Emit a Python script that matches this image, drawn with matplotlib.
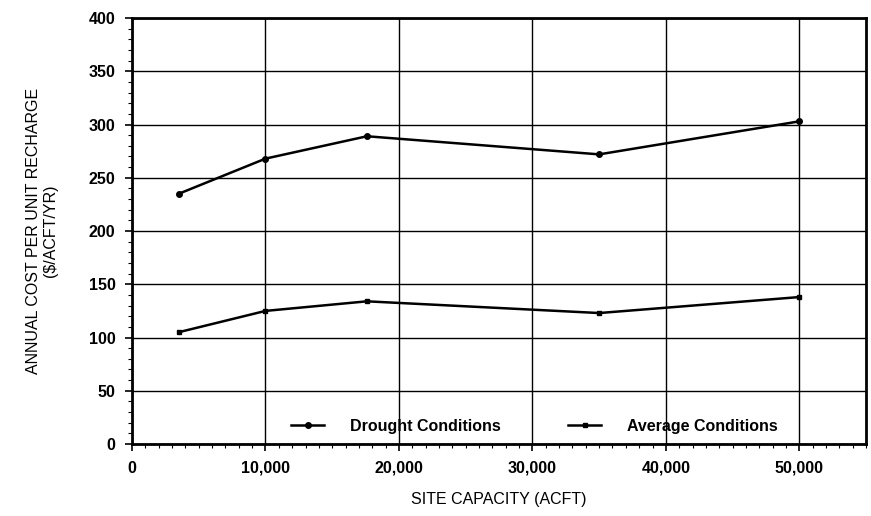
import matplotlib.pyplot as plt
from matplotlib.ticker import MultipleLocator, FuncFormatter

capacity = [3500, 10000, 17600, 35000, 50000]
drought = [235, 268, 289, 272, 303]
average = [105, 125, 134, 123, 138]

plt.rcParams['font.family'] = ['Liberation Sans', 'DejaVu Sans']

fig = plt.figure(figsize=(8.71, 5.16), dpi=100)
ax = fig.add_axes([0.1516, 0.1395, 0.8427, 0.8255])

ax.plot(capacity, drought, color='black', lw=1.8, marker='o', ms=4, label='Drought Conditions')
ax.plot(capacity, average, color='black', lw=1.8, marker='s', ms=3.5, label='Average Conditions')

ax.set_xlim(0, 55000)
ax.set_ylim(0, 400)
ax.xaxis.set_major_locator(MultipleLocator(10000))
ax.xaxis.set_minor_locator(MultipleLocator(1000))
ax.yaxis.set_major_locator(MultipleLocator(50))
ax.yaxis.set_minor_locator(MultipleLocator(10))
ax.xaxis.set_major_formatter(FuncFormatter(lambda v, p: f'{int(v):,}'))
ax.grid(which='major', color='black', lw=1.0)

for s in ax.spines.values():
    s.set_linewidth(2)
ax.tick_params(which='major', length=5, width=1.2, labelsize=11.5, pad=7)
ax.tick_params(which='minor', length=3, width=0.8)
for lbl in ax.get_xticklabels() + ax.get_yticklabels():
    lbl.set_fontweight('bold')

ax.set_xlabel('SITE CAPACITY (ACFT)', fontsize=11.5, labelpad=12)
ax.set_ylabel('ANNUAL COST PER UNIT RECHARGE\n($/ACFT/YR)', fontsize=11.5, labelpad=22)

leg = ax.legend(loc='lower center', bbox_to_anchor=(0.548, -0.01), ncol=2, frameon=False,
                prop={'weight': 'bold', 'size': 11.5}, columnspacing=4.2,
                handlelength=2.1, handletextpad=1.6)
leg.set_zorder(5)

fig.savefig('out.png', dpi=100)
